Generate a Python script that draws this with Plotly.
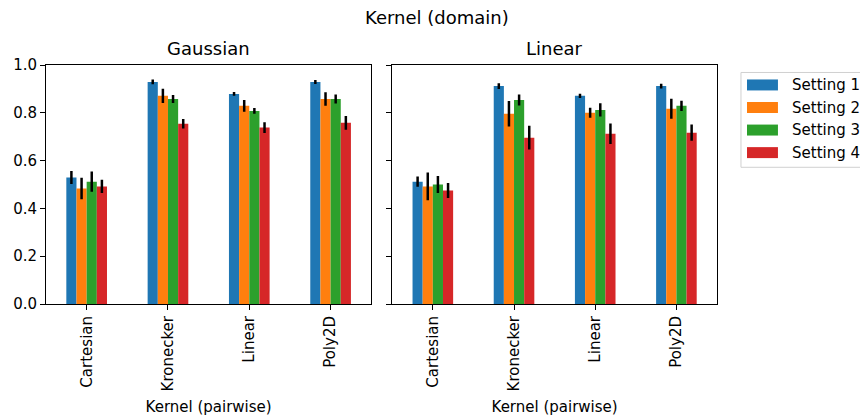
import plotly.graph_objects as go

categories = ["Cartesian", "Kronecker", "Linear", "Poly2D"]
settings = ["Setting 1", "Setting 2", "Setting 3", "Setting 4"]
colors = ["#1f77b4", "#ff7f0e", "#2ca02c", "#d62728"]

gauss_vals = [
    [0.529, 0.929, 0.879, 0.929],
    [0.483, 0.871, 0.829, 0.858],
    [0.512, 0.858, 0.808, 0.858],
    [0.492, 0.754, 0.738, 0.758],
]
gauss_err = [
    [0.027, 0.010, 0.008, 0.008],
    [0.045, 0.030, 0.025, 0.028],
    [0.042, 0.017, 0.012, 0.019],
    [0.028, 0.020, 0.022, 0.029],
]
linear_vals = [
    [0.512, 0.912, 0.871, 0.912],
    [0.492, 0.796, 0.800, 0.817],
    [0.500, 0.854, 0.812, 0.829],
    [0.475, 0.696, 0.712, 0.717],
]
linear_err = [
    [0.021, 0.012, 0.009, 0.010],
    [0.058, 0.053, 0.021, 0.042],
    [0.036, 0.023, 0.028, 0.021],
    [0.031, 0.050, 0.043, 0.034],
]

panel_titles = ["Gaussian", "Linear"]
suptitle = "Kernel (domain)"
xlabel = "Kernel (pairwise)"
yticks = [0.0, 0.2, 0.4, 0.6, 0.8, 1.0]

W, H = 860, 416
# target pixel coords of plot areas
S_L, S_R1, S_L2, S_R, S_T, S_B = 45.5, 371, 392, 717, 64.5, 304
ml = S_L
mt = S_T
mr = W - S_R
mb = H - S_B
pw = W - ml - mr
ph = H - mt - mb

def px_x(sx):
    return (sx - ml) / pw

def px_y(sy):
    return (H - mb - sy) / ph

fig = go.Figure()
font = "DejaVu Sans, Arial, sans-serif"
FS = 15
TS = 18

for p, (vals, errs) in enumerate([(gauss_vals, gauss_err), (linear_vals, linear_err)]):
    xa = "x" if p == 0 else "x2"
    ya = "y" if p == 0 else "y2"
    for i in range(4):
        fig.add_trace(go.Bar(
            x=categories, y=vals[i], name=settings[i],
            marker=dict(color=colors[i], line=dict(width=0)),
            error_y=dict(type="data", array=errs[i], color="black",
                         thickness=2.5, width=0),
            xaxis=xa, yaxis=ya, showlegend=False,
        ))

axis_common = dict(showline=True, linecolor="black", linewidth=1, mirror=True,
                   ticks="outside", ticklen=5, tickcolor="black", showgrid=False,
                   zeroline=False, automargin=False,
                   tickfont=dict(family=font, size=FS, color="#000"))

fig.update_layout(
    width=W, height=H,
    margin=dict(l=ml, r=mr, t=mt, b=mb, pad=0, autoexpand=False),
    paper_bgcolor="white", plot_bgcolor="white",
    barmode="group", bargap=0.5, bargroupgap=0,
    font=dict(family=font, size=FS, color="#000"),
    showlegend=False,
    xaxis=dict(domain=[0, px_x(S_R1)], tickangle=-90, range=[-0.5, 3.5],
               title=dict(text=xlabel, font=dict(size=FS, family=font), standoff=11),
               **axis_common),
    xaxis2=dict(domain=[px_x(S_L2), 1], tickangle=-90, range=[-0.5, 3.5],
                title=dict(text=xlabel, font=dict(size=FS, family=font), standoff=11),
                **axis_common),
    yaxis=dict(range=[0, 1], tickvals=yticks, tickformat=".1f", anchor="x", **axis_common),
    yaxis2=dict(range=[0, 1], tickvals=yticks, showticklabels=False, anchor="x2", **axis_common),
)

fig.add_annotation(text=suptitle, x=px_x(437), y=px_y(17), xref="paper", yref="paper",
                   showarrow=False, xanchor="center", yanchor="middle",
                   font=dict(family=font, size=TS, color="#000"))
fig.add_annotation(text=panel_titles[0], x=px_x((S_L + S_R1) / 2), y=px_y(48), xref="paper", yref="paper",
                   showarrow=False, xanchor="center", yanchor="middle",
                   font=dict(family=font, size=TS, color="#000"))
fig.add_annotation(text=panel_titles[1], x=px_x((S_L2 + S_R) / 2), y=px_y(48), xref="paper", yref="paper",
                   showarrow=False, xanchor="center", yanchor="middle",
                   font=dict(family=font, size=TS, color="#000"))

# manual legend (wide patches like the reference)
fig.add_shape(type="rect", xref="paper", yref="paper",
              x0=px_x(741), x1=px_x(880), y0=px_y(167), y1=px_y(72),
              line=dict(color="#d0d0d0", width=1), fillcolor="white", layer="above")
for i, (name, col) in enumerate(zip(settings, colors)):
    cy = 84.5 + i * 22.6
    fig.add_shape(type="rect", xref="paper", yref="paper",
                  x0=px_x(747), x1=px_x(778), y0=px_y(cy + 5.5), y1=px_y(cy - 5.5),
                  line=dict(width=0), fillcolor=col, layer="above")
    fig.add_annotation(text=name, x=px_x(790), y=px_y(cy), xref="paper", yref="paper",
                       showarrow=False, xanchor="left", yanchor="middle",
                       font=dict(family=font, size=FS, color="#000"))

fig.write_html("out.html", config={"displayModeBar": False},
               post_script="document.body.style.margin='0';document.body.style.overflow='hidden';")
